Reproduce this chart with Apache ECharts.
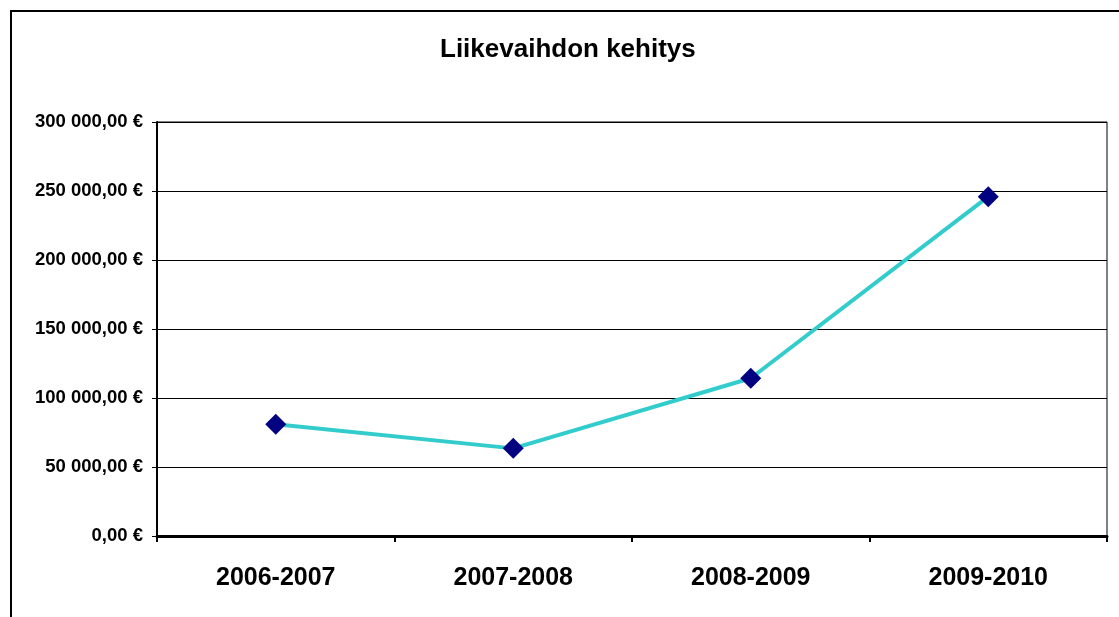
<!DOCTYPE html>
<html>
<head>
<meta charset="utf-8">
<script src="https://cdn.jsdelivr.net/npm/echarts@6/dist/echarts.min.js"></script>
<style>
  html, body { margin: 0; padding: 0; background: #ffffff; }
  #chart { width: 1119px; height: 617px; }
</style>
</head>
<body>
<div id="chart"></div>
<script>
// Turnover per fiscal year
const titleText = 'Liikevaihdon kehitys';
const periods = ['2006-2007', '2007-2008', '2008-2009', '2009-2010'];
const turnover = [81000, 63500, 114300, 245900];
const yMin = 0;
const yMax = 300000;
const yStep = 50000;

// Finnish currency format: "300 000,00 €"
function euro(v) {
  const parts = v.toFixed(2).split('.');
  const intPart = parts[0].replace(/\B(?=(\d{3})+(?!\d))/g, ' ');
  return intPart + ',' + parts[1] + ' €';
}

const chart = echarts.init(document.getElementById('chart'), null, { renderer: 'canvas' });
const font = '"Liberation Sans", Arial, sans-serif';

chart.setOption({
  backgroundColor: '#ffffff',
  animation: false,
  title: {
    text: titleText,
    left: 435,
    top: 32,
    textStyle: { fontFamily: font, fontSize: 26, fontWeight: 'bold', color: '#000000' }
  },
  graphic: [{
    type: 'rect',
    shape: { x: 11, y: 11, width: 1200, height: 700 },
    style: { fill: 'none', stroke: '#000000', lineWidth: 2 },
    silent: true,
    z: 0
  }],
  grid: {
    left: 157, right: 12, top: 122, bottom: 81,
    show: true, borderColor: '#000000', borderWidth: 1,
    backgroundColor: 'transparent'
  },
  xAxis: {
    type: 'category',
    data: periods,
    boundaryGap: true,
    axisLine: { show: true, lineStyle: { color: '#000000', width: 3 } },
    axisTick: { show: true, alignWithLabel: false, length: 6, lineStyle: { color: '#000000', width: 2 } },
    axisLabel: { margin: 30, fontFamily: font, fontSize: 25, fontWeight: 'bold', color: '#000000' },
    splitLine: { show: false }
  },
  yAxis: {
    type: 'value',
    min: yMin, max: yMax, interval: yStep,
    axisLine: { show: true, lineStyle: { color: '#000000', width: 2 } },
    axisTick: { show: true, length: 5, lineStyle: { color: '#000000', width: 1 } },
    axisLabel: {
      margin: 14, fontFamily: font, fontSize: 18.5, fontWeight: 'bold', color: '#000000',
      formatter: euro
    },
    splitLine: { show: true, lineStyle: { color: '#000000', width: 1 } }
  },
  series: [{
    type: 'line',
    data: turnover,
    symbol: 'diamond',
    symbolSize: 21,
    lineStyle: { color: '#33CCCC', width: 4 },
    itemStyle: { color: '#000080' },
    z: 5
  }]
});
</script>
</body>
</html>
